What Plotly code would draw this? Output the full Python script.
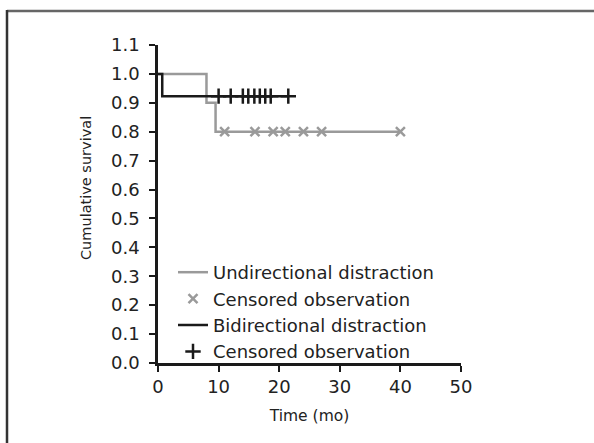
import plotly.graph_objects as go

# ---- data ----
uni_times = [0, 8, 9.5, 40]
uni_surv = [1.0, 0.9, 0.8, 0.8]
uni_cens_times = [11, 16, 19, 21, 24, 27, 40]
uni_cens_surv = [0.8, 0.8, 0.8, 0.8, 0.8, 0.8, 0.8]

bi_times = [0, 0.7, 21.5]
bi_surv = [1.0, 0.923, 0.923]
bi_cens_times = [10, 12, 14, 14.9, 15.9, 16.8, 17.7, 18.6, 21.5]
bi_cens_surv = [0.923] * 9

x_ticks = [0, 10, 20, 30, 40, 50]
y_ticks = [0.0, 0.1, 0.2, 0.3, 0.4, 0.5, 0.6, 0.7, 0.8, 0.9, 1.0, 1.1]

GRAY = "#9a9a9a"
BLACK = "#1a1a1a"
FONT = "DejaVu Sans"

W, H = 594, 443
L, R, T, B = 158, 133, 45, 80

fig = go.Figure()
fig.add_trace(go.Scatter(x=uni_times, y=uni_surv, mode="lines", line_shape="hv",
                         line=dict(color=GRAY, width=2.5),
                         name="Undirectional distraction", legendgroup="a"))
fig.add_trace(go.Scatter(x=uni_cens_times, y=uni_cens_surv, mode="markers",
                         marker=dict(symbol="x-thin", size=9, line=dict(color=GRAY, width=2.5)),
                         name="Censored observation", legendgroup="b"))
fig.add_trace(go.Scatter(x=bi_times, y=bi_surv, mode="lines", line_shape="hv",
                         line=dict(color=BLACK, width=2.5),
                         name="Bidirectional distraction", legendgroup="c"))
fig.add_trace(go.Scatter(x=bi_cens_times, y=bi_cens_surv, mode="markers",
                         marker=dict(symbol="cross-thin", size=11, line=dict(color=BLACK, width=2.5)),
                         name="Censored observation", legendgroup="d"))

pw = W - L - R
ph = H - T - B
def px2x(px):
    return (px - L) / pw
def py2y(py):
    return (H - B - py) / ph

fig.update_layout(
    width=W, height=H,
    margin=dict(l=L, r=R, t=T, b=B),
    paper_bgcolor="white", plot_bgcolor="white",
    font=dict(family=FONT, size=18, color="#222222"),
    showlegend=True,
    legend=dict(x=px2x(173), y=py2y(254), xanchor="left", yanchor="top",
                bgcolor="rgba(0,0,0,0)", font=dict(size=18, family=FONT, color="#222222"),
                traceorder="grouped", tracegroupgap=0),
    xaxis=dict(range=[0, 50], tickvals=x_ticks, ticktext=[str(v) for v in x_ticks],
               showgrid=False, zeroline=False, showline=True, linecolor=BLACK, linewidth=2.5,
               ticks="outside", ticklen=6, tickwidth=2, tickcolor=BLACK,
               title=dict(text="Time (mo)", font=dict(size=15.5, family=FONT), standoff=14)),
    yaxis=dict(range=[0, 1.1], tickvals=y_ticks, ticktext=[f"{v:.1f}" for v in y_ticks],
               showgrid=False, zeroline=False, showline=True, linecolor=BLACK, linewidth=2.5,
               ticks="outside", ticklen=6, tickwidth=2, tickcolor=BLACK,
               ticklabelstandoff=6),
    annotations=[
        dict(text="Cumulative survival", textangle=-90, xref="paper", yref="paper",
             x=px2x(86), y=py2y(188), xanchor="center", yanchor="middle", showarrow=False,
             font=dict(size=14.5, family=FONT, color="#222222")),
    ],
    shapes=[
        dict(type="line", xref="paper", yref="paper", x0=px2x(7), x1=px2x(600),
             y0=py2y(11), y1=py2y(11), line=dict(color="#666666", width=2.5)),
        dict(type="line", xref="paper", yref="paper", x0=px2x(7), x1=px2x(7),
             y0=py2y(10), y1=py2y(450), line=dict(color="#333333", width=2.5)),
    ],
)

fig.write_html("out.html", config={"displayModeBar": False},
               post_script="document.body.style.margin='0';document.body.style.overflow='hidden';")
